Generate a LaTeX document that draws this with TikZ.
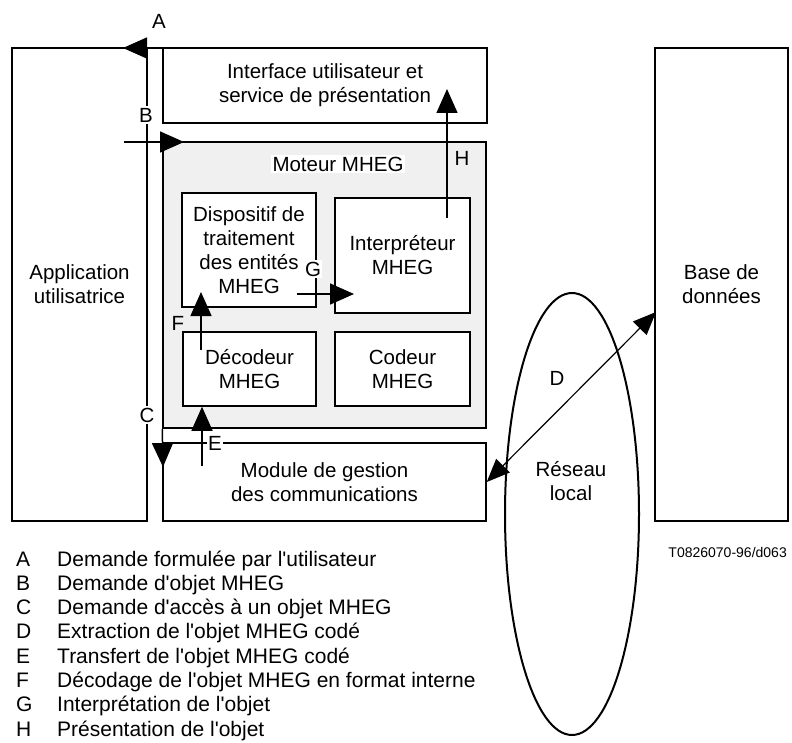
\documentclass[tikz,border=0pt]{standalone}
\usepackage{fontspec}
\setmainfont{Liberation Sans}[Ligatures=TeXOff]
\usetikzlibrary{%
        arrows.meta,
        shapes.geometric,
    }
\tikzset{%
    block/.style={%
        draw,
        line width=1.5pt,
        fill=white,
        align=center,
        font=\fontsize{20.5}{24}\selectfont,
    },
    flow/.style={%
        -{Triangle[length=24pt, width=21pt]},
        line width=1.5pt,
    },
    link/.style={%
        {Triangle[length=23pt, width=19pt]}-{Triangle[length=23pt, width=19pt]},
        line width=1.2pt,
    },
    tag/.style={%
        fill=white,
        inner sep=1.5pt,
        font=\fontsize{20.5}{24}\selectfont,
    },
    legend/.style={%
        anchor=base west,
        inner sep=0pt,
        font=\fontsize{21}{24}\selectfont,
    },
}

\begin{document}
\begin{tikzpicture}[x=1pt, y=-1pt]
    \useasboundingbox (0, 0) rectangle (792, 743);

    %%%%%%%%%%
    % Blocks %
    %%%%%%%%%%
    \node[block, minimum width=135pt, minimum height=473pt]
        (app) at (79.5, 284.5) {Application\\utilisatrice};
    \node[block, minimum width=324pt, minimum height=75pt]
        (iface) at (325, 85.5) {Interface utilisateur et\\service de présentation};
    \node[block, fill=black!6, minimum width=323pt, minimum height=286pt]
        (engine) at (324.5, 285) {};
    \node[block, minimum width=323pt, minimum height=78pt]
        (comm) at (324.5, 482) {Module de gestion\\des communications};
    \node[block, minimum width=133pt, minimum height=473pt]
        (base) at (721.5, 284.5) {Base de\\données};

    % Engine contents
    \node[tag] (engine-title) at (338, 164) {Moteur MHEG};
    \node[block, minimum width=134pt, minimum height=114pt]
        (disp) at (249, 250) {Dispositif de\\traitement\\des entités\\MHEG};
    \node[block, minimum width=135pt, minimum height=115pt]
        (interp) at (402.5, 255.5) {Interpréteur\\MHEG};
    \node[block, minimum width=133pt, minimum height=74pt]
        (decod) at (249.5, 369) {Décodeur\\MHEG};
    \node[block, minimum width=135pt, minimum height=74pt]
        (cod) at (402.5, 369) {Codeur\\MHEG};

    % Local network
    \node[draw, ellipse, line width=2pt, minimum width=134pt, minimum height=442pt]
        (net) at (572, 514) {};
    \node[font=\fontsize{20.5}{24}\selectfont, align=center]
        (net-label) at (571, 481) {Réseau\\local};

    %%%%%%%%%%
    % Arrows %
    %%%%%%%%%%
    \coordinate (a-tail) at (183, 48);
    \coordinate (a-head) at (123, 48);
    \coordinate (b-tail) at (124, 142);
    \coordinate (b-head) at (184, 142);
    \coordinate (c-head) at (163, 467);
    \coordinate (d-top) at (656, 312);
    \coordinate (e-tail) at (202, 466);
    \coordinate (f-tail) at (201, 350);
    \coordinate (f-head) at (201, 292);
    \coordinate (g-tail) at (297, 294);
    \coordinate (g-head) at (354, 294);
    \coordinate (h-tail) at (447, 218);
    \coordinate (h-head) at (447, 89);

    \draw[flow] (a-tail) -- (a-head);
    \draw[flow] (b-tail) -- (b-head);
    \draw[flow] (engine.south west) -- (c-head);
    \draw[link] (comm.east) -- (d-top);
    \draw[flow] (e-tail) -- (e-tail |- decod.south);
    \draw[flow] (f-tail) -- (f-head);
    \draw[flow] (g-tail) -- (g-head);
    \draw[flow] (h-tail) -- (h-head);

    % Letters on the arrows
    \node[tag, fill=none] (lab-a) at (159, 21) {A};
    \node[tag] (lab-b) at (146, 115) {B};
    \node[tag] (lab-c) at (147, 415) {C};
    \node[tag, fill=none] (lab-d) at (557, 378) {D};
    \node[tag] (lab-e) at (215, 443) {E};
    \node[tag, fill=none] (lab-f) at (178, 323) {F};
    \node[tag] (lab-g) at (313, 269) {G};
    \node[tag, fill=none] (lab-h) at (462, 158) {H};

    %%%%%%%%%%
    % Legend %
    %%%%%%%%%%
    \node[anchor=base east, inner sep=0pt, font=\fontsize{14}{16}\selectfont]
        (ref) at (787, 557) {T0826070-96/d063};
    \foreach \lab/\desc [count=\i from 0] in {%
        A/Demande formulée par l'utilisateur,
        B/Demande d'objet MHEG,
        C/Demande d'accès à un objet MHEG,
        D/Extraction de l'objet MHEG codé,
        E/Transfert de l'objet MHEG codé,
        F/Décodage de l'objet MHEG en format interne,
        G/Interprétation de l'objet,
        H/Présentation de l'objet%
    }{%
        \node[legend] (key-\lab) at (16, 566 + \i*24.3) {\lab};
        \node[legend] (desc-\lab) at (57, 566 + \i*24.3) {\desc};
    };

\end{tikzpicture}
\end{document}
